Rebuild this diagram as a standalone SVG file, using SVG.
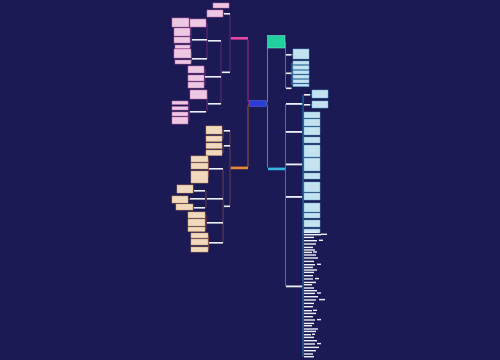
<svg xmlns="http://www.w3.org/2000/svg" width="500" height="360" viewBox="0 0 500 360">
<style>
.pk{fill:#ecc8e3;stroke:#c768b0;stroke-width:0.5}
.be{fill:#f1d9bd;stroke:#d7a066;stroke-width:0.5}
.lb{fill:#c5e2f0;stroke:#5fb3dc;stroke-width:0.5}
.wb{fill:#eef0f8}
.cp{fill:none;stroke:#7d2b7c;stroke-width:0.8}
.co{fill:none;stroke:#7b4750;stroke-width:0.8}
.cg{fill:none;stroke:#3196c8;stroke-width:0.8}
</style>
<rect width="500" height="360" fill="#1c1a55"/>
<g id="connectors">
<path d="M249.5,103.5 Q248,103.5 248,101 V39.5" fill="none" stroke="#a0307f" stroke-width="1"/>
<path d="M249.5,104 Q248,104 248,106.5 V167" fill="none" stroke="#9c5a3c" stroke-width="1"/>
<path d="M266,103.5 Q267.5,103.5 267.5,101 V48" fill="none" stroke="#2a95c0" stroke-width="1"/>
<path d="M266,104 Q267.5,104 267.5,106.5 V167.5" fill="none" stroke="#2a95c0" stroke-width="1"/>
<path class="cp" d="M231,38.5 H230 M230,14 V72 M229,5.5 H230 M223,13.5 H224"/>
<path class="cp" d="M222,72.3 H221 M221,40.8 V103.8"/>
<path class="cp" d="M208,40.8 H207 M207,23 V58.8 M206,23 H207"/>
<path class="cp" d="M192,39.8 H191 M191,22 V47 M189,22 H191 M190,32 H191 M190,40 H191 M190,46.7 H191"/>
<path class="cp" d="M192,58.8 H191.5 M191.5,53 V62 M191,53 H191.5 M191,62 H191.5"/>
<path class="cp" d="M205,76.8 V69 M204,69.5 H205 M205,76.8 V85 M204,78 H205 M204,85 H205"/>
<path class="cp" d="M208,103.8 H207 M207,94 V111.8 M207,94.5 H207"/>
<path class="cp" d="M190,111.8 H189 M189,102.8 V120.5 M188,102.8 H189 M188,108.3 H189 M188,114 H189 M188,120.5 H189"/>
<path class="co" d="M231,168 H230 M230,130.8 V206.3"/>
<path class="co" d="M224,130.8 H223 M223,130 V138.8 M222,130 H223 M222,138.8 H223"/>
<path class="co" d="M224,145.8 H223 M223,145.8 V152.8 M222,145.8 H223 M222,152.8 H223"/>
<path class="co" d="M224,206.3 H223 M223,168.8 V242.8"/>
<path class="co" d="M209,168.8 H208.5 M208.5,159 V177 M208,159 H208.5 M208,166 H208.5 M208,177 H208.5"/>
<path class="co" d="M207,198.8 H206 M206,190.8 V207.8 M193,189 H194 M188,199.5 H190 M193,207 H194"/>
<path class="co" d="M207,222.8 H206 M206,215 V229.3 M205,215 H206 M205,229.3 H206"/>
<path class="co" d="M209,242.8 H208.5 M208.5,235.5 V249.5 M208,235.5 H208.5 M208,249.5 H208.5"/>
<path class="cg" d="M285,42 H285.5 V88.3 M291.5,54.8 H293 M291.5,73.3 H292 M292,62.8 V85.2 M292,67.5 H293"/>
<path class="cg" d="M285,169 H285.5 M285.5,104 V286.3"/>
<path class="cg" d="M302,104 H303 M303,94.5 V357"/>
<path class="cg" d="M310,94.8 H312 M310,104.8 H312"/>
</g>
<g id="center"><rect x="249.5" y="100.5" width="16.5" height="6" fill="#2c3ad6" stroke="#5a6cf0" stroke-width="0.5"/></g>
<g id="pink-main"><rect x="231" y="37" width="17" height="2.6" fill="#e4489f"/></g>
<g id="orange-main"><rect x="231" y="166.6" width="17" height="2.6" fill="#e8872e"/></g>
<g id="green-main"><rect x="267.5" y="35.5" width="17.5" height="12.5" fill="#22cf9e" stroke="#8ff0d8" stroke-width="0.5"/></g>
<g id="cyan-main"><rect x="268" y="167.6" width="17" height="2.6" fill="#34b6e0"/></g>
<g id="pink-sub">
<g id="pA1"><rect class="wb" x="224" y="13" width="6" height="1.6"/></g>
<g id="pA2"><rect class="wb" x="222" y="71.5" width="8" height="1.6"/></g>
<g id="pB1"><rect class="wb" x="208" y="40" width="13" height="1.6"/></g>
<g id="pB2"><rect class="wb" x="205" y="76" width="16" height="1.6"/></g>
<g id="pB3"><rect class="wb" x="208" y="103" width="13" height="1.6"/></g>
<g id="pC1"><rect class="wb" x="192" y="39" width="15" height="1.6"/></g>
<g id="pC2"><rect class="wb" x="192" y="58" width="15" height="1.6"/></g>
<g id="pD"><rect class="wb" x="190" y="111" width="16" height="1.6"/></g>
<g id="pL1"><rect class="pk" x="213" y="3" width="16" height="5"/></g>
<g id="pL2"><rect class="pk" x="207" y="10" width="16" height="7"/></g>
<g id="pL3"><rect class="pk" x="190" y="19" width="16" height="8"/></g>
<g id="pL4"><rect class="pk" x="172" y="18" width="17" height="9"/></g>
<g id="pL5"><rect class="pk" x="174" y="28" width="16" height="8"/></g>
<g id="pL6"><rect class="pk" x="174" y="37" width="16" height="6"/></g>
<g id="pL7"><rect class="pk" x="175" y="45" width="15" height="3.5"/></g>
<g id="pL8"><rect class="pk" x="174" y="49" width="17" height="9"/></g>
<g id="pL9"><rect class="pk" x="175" y="60" width="16" height="4"/></g>
<g id="pL10"><rect class="pk" x="188" y="66" width="16" height="7"/></g>
<g id="pL11"><rect class="pk" x="188" y="75" width="16" height="6"/></g>
<g id="pL12"><rect class="pk" x="188" y="82" width="16" height="6"/></g>
<g id="pL13"><rect class="pk" x="190" y="90" width="17" height="9"/></g>
<g id="pL14"><rect class="pk" x="172" y="101" width="16" height="3.5"/></g>
<g id="pL15"><rect class="pk" x="172" y="106.5" width="16" height="3.5"/></g>
<g id="pL16"><rect class="pk" x="172" y="112" width="16" height="4"/></g>
<g id="pL17"><rect class="pk" x="172" y="117" width="16" height="7"/></g>
</g>
<g id="orange-sub">
<g id="oE1"><rect class="wb" x="224" y="130" width="6" height="1.6"/></g>
<g id="oE2"><rect class="wb" x="224" y="145" width="6" height="1.6"/></g>
<g id="oE3"><rect class="wb" x="224" y="205.5" width="6" height="1.6"/></g>
<g id="oF1"><rect class="wb" x="209" y="168" width="14" height="1.6"/></g>
<g id="oF2"><rect class="wb" x="207" y="198" width="16" height="1.6"/></g>
<g id="oF3"><rect class="wb" x="207" y="222" width="16" height="1.6"/></g>
<g id="oF4"><rect class="wb" x="209" y="242" width="14" height="1.6"/></g>
<g id="oG1"><rect class="wb" x="194" y="190" width="11" height="1.6"/></g>
<g id="oG2"><rect class="wb" x="190" y="198" width="15" height="1.6"/></g>
<g id="oG3"><rect class="wb" x="194" y="207" width="11" height="1.6"/></g>
<g id="oL1"><rect class="be" x="206" y="126" width="16" height="8"/></g>
<g id="oL2"><rect class="be" x="206" y="136" width="16" height="5.5"/></g>
<g id="oL3"><rect class="be" x="206" y="143" width="16" height="5.5"/></g>
<g id="oL4"><rect class="be" x="206" y="150" width="16" height="5.5"/></g>
<g id="oL5"><rect class="be" x="191" y="156" width="17" height="6"/></g>
<g id="oL6"><rect class="be" x="191" y="163" width="17" height="6"/></g>
<g id="oL7"><rect class="be" x="191" y="171" width="17" height="12"/></g>
<g id="oL8"><rect class="be" x="177" y="185" width="16" height="8"/></g>
<g id="oL9"><rect class="be" x="172" y="196" width="16" height="7"/></g>
<g id="oL10"><rect class="be" x="176" y="204" width="17" height="6"/></g>
<g id="oL11"><rect class="be" x="188" y="212" width="17" height="6"/></g>
<g id="oL12"><rect class="be" x="188" y="219" width="17" height="7"/></g>
<g id="oL13"><rect class="be" x="188" y="227" width="17" height="4.5"/></g>
<g id="oL14"><rect class="be" x="191" y="233" width="17" height="5"/></g>
<g id="oL15"><rect class="be" x="191" y="239" width="17" height="6"/></g>
<g id="oL16"><rect class="be" x="191" y="247" width="17" height="5"/></g>
</g>
<g id="green-sub">
<g id="gH1"><rect class="wb" x="286" y="54" width="5.5" height="1.6"/></g>
<g id="gH2"><rect class="wb" x="286" y="72.5" width="5.5" height="1.6"/></g>
<g id="gH3"><rect class="wb" x="286" y="87.5" width="5.5" height="1.6"/></g>
<g id="gL1"><rect class="lb" x="293" y="49" width="16" height="10"/></g>
<g id="gL2"><rect class="lb" x="293" y="61" width="16" height="3.5"/></g>
<g id="gL3"><rect class="lb" x="293" y="65.5" width="16" height="4"/></g>
<g id="gL4"><rect class="lb" x="293" y="70.5" width="16" height="3.5"/></g>
<g id="gL5"><rect class="lb" x="293" y="75" width="16" height="3.5"/></g>
<g id="gL6"><rect class="lb" x="293" y="79.5" width="16" height="3.5"/></g>
<g id="gL7"><rect class="lb" x="293" y="84" width="16" height="2.5"/></g>
</g>
<g id="cyan-sub">
<g id="cI1"><rect class="wb" x="286" y="103" width="16" height="1.8"/></g>
<g id="cI2"><rect class="wb" x="286" y="131" width="16" height="1.8"/></g>
<g id="cI3"><rect class="wb" x="286" y="163.5" width="16" height="1.8"/></g>
<g id="cI4"><rect class="wb" x="286" y="196" width="16" height="1.8"/></g>
<g id="cI5"><rect class="wb" x="286" y="285.5" width="16" height="1.8"/></g>
<g id="cJ1"><rect class="wb" x="304" y="94" width="6" height="1.6"/></g>
<g id="cJ2"><rect class="wb" x="304" y="104" width="6" height="1.6"/></g>
<g id="cL1"><rect class="lb" x="312" y="90" width="16" height="8"/></g>
<g id="cL2"><rect class="lb" x="312" y="101" width="16" height="7"/></g>
<g id="cL3"><rect class="lb" x="304" y="112" width="16" height="6"/></g>
<g id="cL4"><rect class="lb" x="304" y="119" width="16" height="7"/></g>
<g id="cL5"><rect class="lb" x="304" y="127" width="16" height="8"/></g>
<g id="cL6"><rect class="lb" x="304" y="137" width="16" height="6"/></g>
<g id="cL7"><rect class="lb" x="304" y="145" width="16" height="12"/></g>
<g id="cL8"><rect class="lb" x="304" y="158" width="16" height="13"/></g>
<g id="cL9"><rect class="lb" x="304" y="173" width="16" height="6"/></g>
<g id="cL10"><rect class="lb" x="304" y="182" width="16" height="10"/></g>
<g id="cL11"><rect class="lb" x="304" y="193" width="16" height="7"/></g>
<g id="cL12"><rect class="lb" x="304" y="203" width="16" height="9"/></g>
<g id="cL13"><rect class="lb" x="304" y="213" width="16" height="5"/></g>
<g id="cL14"><rect class="lb" x="304" y="220" width="16" height="7"/></g>
<g id="cL15"><rect class="lb" x="304" y="229" width="16" height="4"/></g>
</g>
<g id="cyan-list" fill="#eef0f8">
<rect x="304" y="231.5" width="14" height="1.4"/>
<rect x="304" y="234" width="17" height="1.4"/><rect x="321" y="233.6" width="6" height="1.4"/>
<rect x="304" y="236.7" width="10" height="1.4"/>
<rect x="304" y="240" width="13" height="1.4"/><rect x="319" y="239.6" width="4" height="1.4"/>
<rect x="304" y="243.3" width="12" height="1.4"/>
<rect x="304" y="246.7" width="9" height="1.4"/>
<rect x="304" y="249.3" width="11" height="1.4"/>
<rect x="304" y="251.7" width="8" height="1.4"/><rect x="313" y="251.3" width="4" height="1.4"/>
<rect x="304" y="254.3" width="12" height="1.4"/>
<rect x="304" y="257.3" width="14" height="1.4"/>
<rect x="304" y="260.7" width="10" height="1.4"/>
<rect x="304" y="264" width="11" height="1.4"/><rect x="317" y="263.6" width="4" height="1.4"/>
<rect x="304" y="266.7" width="9" height="1.4"/>
<rect x="304" y="269.3" width="13" height="1.4"/>
<rect x="304" y="271.7" width="10" height="1.4"/>
<rect x="304" y="275" width="9" height="1.4"/>
<rect x="304" y="278.3" width="9" height="1.4"/><rect x="315" y="277.9" width="4" height="1.4"/>
<rect x="304" y="281.7" width="12" height="1.4"/>
<rect x="304" y="284" width="8" height="1.4"/>
<rect x="304" y="287.3" width="10" height="1.4"/>
<rect x="304" y="290" width="13" height="1.4"/>
<rect x="304" y="292.7" width="11" height="1.4"/><rect x="317" y="292.3" width="4" height="1.4"/>
<rect x="304" y="296" width="14" height="1.4"/>
<rect x="304" y="299.3" width="12" height="1.4"/><rect x="319" y="298.9" width="6" height="1.4"/>
<rect x="304" y="302.7" width="10" height="1.4"/>
<rect x="304" y="306" width="9" height="1.4"/>
<rect x="304" y="310" width="8" height="1.4"/><rect x="313" y="309.6" width="4" height="1.4"/>
<rect x="304" y="312.7" width="12" height="1.4"/>
<rect x="304" y="316" width="9" height="1.4"/>
<rect x="304" y="319.3" width="11" height="1.4"/><rect x="317" y="318.9" width="4" height="1.4"/>
<rect x="304" y="322.7" width="10" height="1.4"/>
<rect x="304" y="325" width="8" height="1.4"/>
<rect x="304" y="328.3" width="14" height="1.4"/>
<rect x="304" y="330.7" width="12" height="1.4"/>
<rect x="304" y="334" width="7" height="1.4"/><rect x="312" y="333.6" width="3" height="1.4"/>
<rect x="304" y="336.7" width="10" height="1.4"/>
<rect x="304" y="340" width="13" height="1.4"/>
<rect x="304" y="343.3" width="11" height="1.4"/><rect x="317" y="342.9" width="4" height="1.4"/>
<rect x="304" y="346.7" width="15" height="1.4"/>
<rect x="304" y="350" width="12" height="1.4"/>
<rect x="304" y="353.3" width="9" height="1.4"/>
<rect x="304" y="356" width="10" height="1.4"/>
</g>
</svg>
